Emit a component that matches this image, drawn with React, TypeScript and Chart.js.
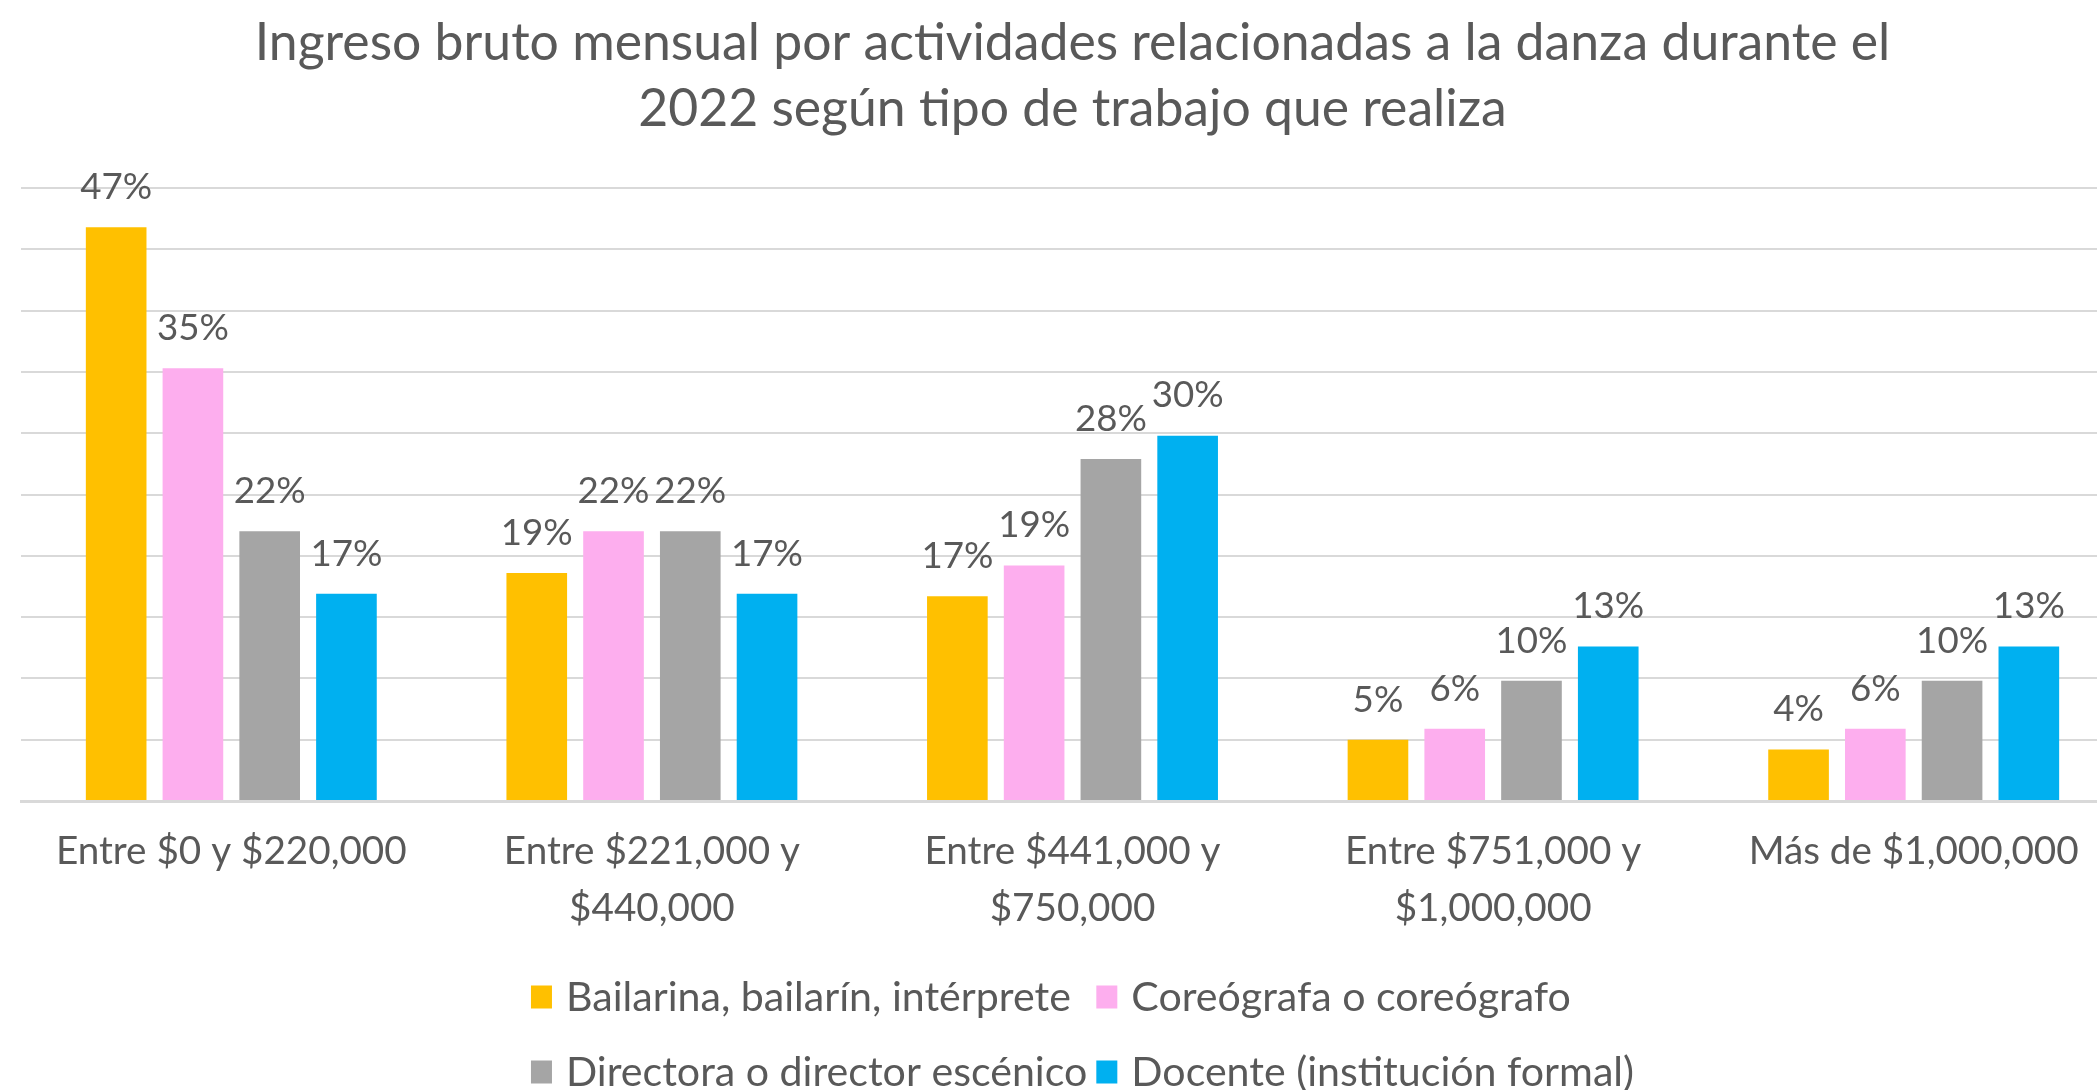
import React, { useEffect, useRef } from "react";
import { Chart, registerables } from "chart.js";

Chart.register(...registerables);

const titleLines = [
  "Ingreso bruto mensual por actividades relacionadas a la danza durante el",
  "2022 según tipo de trabajo que realiza",
];

const categories: (string | string[])[] = [
  "Entre $0 y $220,000",
  ["Entre $221,000 y", "$440,000"],
  ["Entre $441,000 y", "$750,000"],
  ["Entre $751,000 y", "$1,000,000"],
  "Más de $1,000,000",
];

const seriesLabels = [
  "Bailarina, bailarín, intérprete",
  "Coreógrafa o coreógrafo",
  "Directora o director escénico",
  "Docente (institución formal)",
];

const bailarina = [46.8, 18.6, 16.7, 5.0, 4.2];
const coreografa = [35.3, 22.0, 19.2, 5.9, 5.9];
const directora = [22.0, 22.0, 27.9, 9.8, 9.8];
const docente = [16.9, 16.9, 29.8, 12.6, 12.6];

const seriesColors = ["#FFC000", "#FDAEEE", "#A5A5A5", "#00B0F0"];

const yMin = 0;
const yMax = 50;
const yStep = 5;

const FAMILY = "Lato, 'Open Sans', sans-serif";
const TEXT_COLOR = "#595959";
const GRID_COLOR = "#D9D9D9";

function fitSize(text: string, target: number): number {
  const c = document.createElement("canvas").getContext("2d")!;
  c.font = `normal 100px ${FAMILY}`;
  const w = c.measureText(text).width;
  return (100 * target) / w;
}

export default function App() {
  const ref = useRef<HTMLCanvasElement | null>(null);

  useEffect(() => {
    const canvas = ref.current;
    if (!canvas) return;

    const titleSize = fitSize(titleLines[0], 1636);
    const tickSize = fitSize("Entre $0 y $220,000", 351);
    const labelSize = fitSize("30%", 72);
    const legendSize = fitSize(seriesLabels[0], 505);

    const dataLabelPlugin = {
      id: "dataLabels",
      afterDatasetsDraw(chart: any) {
        const ctx = chart.ctx;
        ctx.save();
        ctx.font = `normal ${labelSize}px ${FAMILY}`;
        ctx.fillStyle = TEXT_COLOR;
        ctx.textAlign = "center";
        ctx.textBaseline = "middle";
        chart.data.datasets.forEach((ds: any, di: number) => {
          const meta = chart.getDatasetMeta(di);
          meta.data.forEach((el: any, i: number) => {
            const v = ds.data[i];
            ctx.fillText(Math.round(v) + "%", el.x, el.y - 40);
          });
        });
        ctx.restore();
      },
    };

    const legendPlugin = {
      id: "gridLegend",
      afterDraw(chart: any) {
        const ctx = chart.ctx;
        ctx.save();
        ctx.font = `normal ${legendSize}px ${FAMILY}`;
        const boxW = 21;
        const boxH = 23;
        const gap = 14;
        const colGap = 9;
        const items = chart.data.datasets.map((d: any) => ({
          text: d.label,
          color: d.backgroundColor,
          w: boxW + gap + ctx.measureText(d.label).width,
        }));
        const cols = 2;
        const colW: number[] = [0, 0];
        items.forEach((it: any, i: number) => {
          colW[i % cols] = Math.max(colW[i % cols], it.w);
        });
        const total = colW[0] + colGap + colW[1];
        const center = (chart.chartArea.left + chart.chartArea.right) / 2;
        const startX = center - total / 2 + 10;
        const baseY = chart.scales.x.bottom;
        const rowYs = [baseY + 38, baseY + 113];
        ctx.textAlign = "left";
        ctx.textBaseline = "middle";
        items.forEach((it: any, i: number) => {
          const col = i % cols;
          const row = Math.floor(i / cols);
          const x = startX + (col === 0 ? 0 : colW[0] + colGap);
          const y = rowYs[row];
          ctx.fillStyle = it.color;
          ctx.fillRect(x, y - boxH / 2, boxW, boxH);
          ctx.fillStyle = TEXT_COLOR;
          ctx.fillText(it.text, x + boxW + gap, y + 1);
        });
        ctx.restore();
      },
    };

    const seriesData = [bailarina, coreografa, directora, docente];

    const chart = new Chart(canvas, {
      type: "bar",
      data: {
        labels: categories,
        datasets: seriesData.map((d, i) => ({
          label: seriesLabels[i],
          data: d,
          backgroundColor: seriesColors[i],
          borderWidth: 0,
          categoryPercentage: 0.73,
          barPercentage: 0.79,
        })),
      },
      options: {
        responsive: false,
        animation: false,
        layout: { padding: { left: 21, right: 20, top: 0, bottom: 131 } },
        plugins: {
          legend: { display: false },
          tooltip: { enabled: false },
          title: {
            display: true,
            text: titleLines,
            color: TEXT_COLOR,
            font: { family: FAMILY, size: titleSize, weight: "normal", lineHeight: "66px" },
            padding: { top: 10, bottom: 46 },
          },
        },
        scales: {
          x: {
            grid: { display: false, drawTicks: false },
            border: { display: true, color: GRID_COLOR, width: 3 },
            ticks: {
              color: TEXT_COLOR,
              font: { family: FAMILY, size: tickSize, lineHeight: "57px" },
              padding: 22,
              maxRotation: 0,
              autoSkip: false,
            },
          },
          y: {
            min: yMin,
            max: yMax,
            ticks: { display: false, stepSize: yStep },
            grid: { color: GRID_COLOR, lineWidth: 2, drawTicks: false },
            border: { display: false },
          },
        },
      },
      plugins: [dataLabelPlugin, legendPlugin],
    });

    return () => chart.destroy();
  }, []);

  return (
    <div
      style={{
        position: "absolute",
        left: 0,
        top: 0,
        width: 2097,
        height: 1090,
        overflow: "hidden",
        background: "#ffffff",
      }}
    >
      <canvas ref={ref} width={2144} height={1090} style={{ width: 2144, height: 1090, display: "block" }} />
    </div>
  );
}
